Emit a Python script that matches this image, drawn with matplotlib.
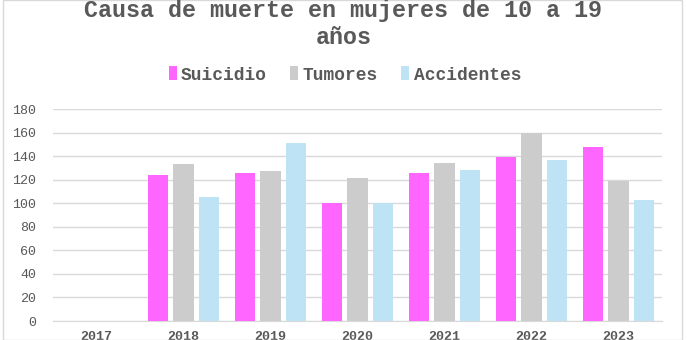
import numpy as np
import matplotlib
matplotlib.use("Agg")
import matplotlib.pyplot as plt
from matplotlib.patches import Rectangle

years = ["2017", "2018", "2019", "2020", "2021", "2022", "2023"]
suicidio = [np.nan, 124, 126, 100, 126, 139, 148]
tumores = [np.nan, 133, 127, 121, 134, 160, 119]
accidentes = [np.nan, 105, 151, 100, 128, 137, 103]
series_names = ["Suicidio", "Tumores", "Accidentes"]
colors = ["#FF66FF", "#CCCCCC", "#BDE3F4"]
yticks = [0, 20, 40, 60, 80, 100, 120, 140, 160, 180]

font = "Liberation Mono"
txt = "#595959"

fig = plt.figure(figsize=(6.87, 3.40), dpi=100)
fig.patches.append(Rectangle((3/687, 0), 679/687, 1, transform=fig.transFigure,
                             fill=False, edgecolor="#D9D9D9", lw=1))
ax = fig.add_axes([53/687, 1-321/340, 609/687, 212/340])

x = np.arange(len(years))
w = 0.23
step = 0.29
for i, (vals, name, c) in enumerate(zip([suicidio, tumores, accidentes], series_names, colors)):
    ax.bar(x + (i-1)*step, vals, width=w, color=c, label=name, zorder=3)

ax.set_xlim(-0.5, len(years)-0.5)
ax.set_ylim(0, 180)
ax.set_yticks(yticks)
ax.set_xticks(x)
ax.set_xticklabels(years)
ax.grid(axis="y", color="#D9D9D9", lw=1, zorder=0)
for s in ["top", "right", "left"]:
    ax.spines[s].set_visible(False)
ax.spines["bottom"].set_color("#D9D9D9")
ax.tick_params(axis="both", length=0, labelcolor=txt, labelsize=9.6)
ax.tick_params(axis="y", pad=12)
ax.tick_params(axis="x", pad=7)
for lab in ax.get_xticklabels() + ax.get_yticklabels():
    lab.set_fontfamily(font)
for lab in ax.get_xticklabels():
    lab.set_fontweight("bold")

fig.text(0.5, 1-10/340, "Causa de muerte en mujeres de 10 a 19", ha="center", va="center",
         fontsize=16.8, fontweight="bold", color=txt, family=font)
fig.text(0.5, 1-37/340, "años", ha="center", va="center",
         fontsize=16.8, fontweight="bold", color=txt, family=font)

leg = fig.legend(loc="center", bbox_to_anchor=(345/687, 1-75/340), ncol=3, frameon=False,
                 prop={"family": font, "weight": "bold", "size": 12.9},
                 handlelength=0.45, handleheight=0.8, handletextpad=0.25, columnspacing=1.3)
for t in leg.get_texts():
    t.set_color(txt)

fig.savefig("out.png", dpi=100)
